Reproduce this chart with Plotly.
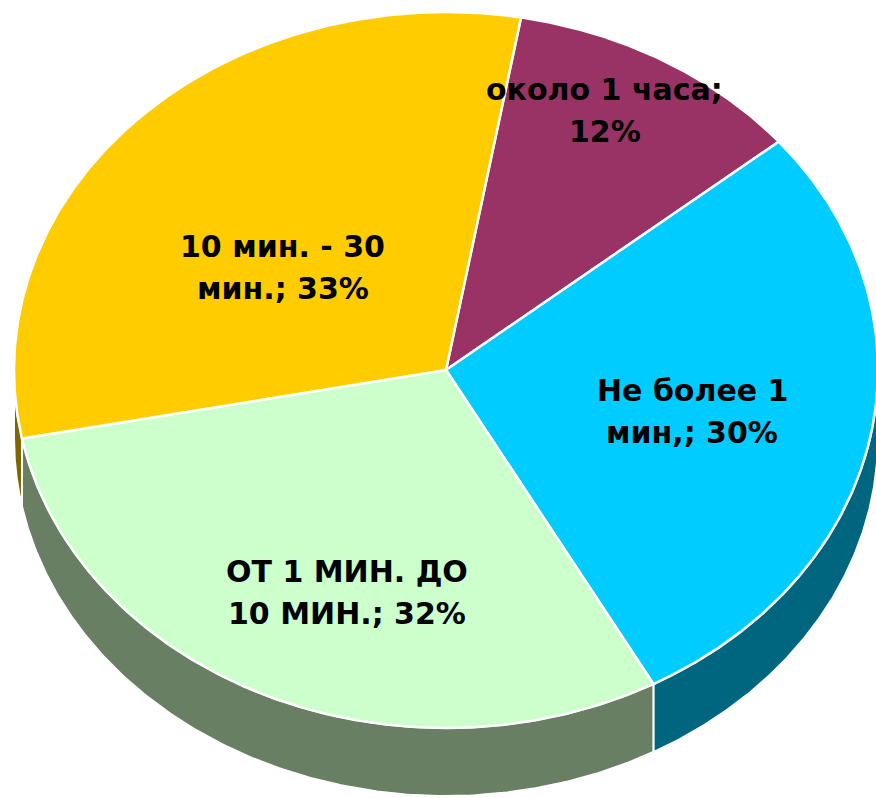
import numpy as np
import plotly.graph_objects as go

# Survey answers: how long it takes (share of respondents, %)
categories = ["около 1 часа", "Не более 1\nмин,", "ОТ 1 МИН. ДО\n10 МИН.", "10 мин. - 30\nмин."]
values = [12, 30, 32, 33]

top_colors = ["#993366", "#00CCFF", "#CCFFCC", "#FFCC00"]
side_colors = ["#4C1933", "#00667F", "#687F63", "#7F6600"]

# Geometry of the tilted pie (plot units = pixels of the canvas)
W, H = 876, 798
CX, CY = 446, 370          # centre of the top face
RX, RY = 432, 358          # semi-axes of the top ellipse
DEPTH = 68                 # thickness of the pie
START = 10.0               # first slice starts 10° clockwise from 12 o'clock

# Radial placement of each label inside its slice (x and y fractions)
label_frac = [(0.73, 0.84), (0.58, 0.62), (0.54, 0.685), (0.53, 0.41)]
LINE_GAP = 42
FONT_SIZE = 30


def ellipse_pt(theta_deg, dy=0.0):
    t = np.radians(theta_deg)
    return CX + RX * np.sin(t), CY - RY * np.cos(t) + dy


total = float(sum(values))
spans = [v / total * 360.0 for v in values]
edges = [START]
for s in spans:
    edges.append(edges[-1] + s)

fig = go.Figure()

# Side walls: only the part of each slice that faces the viewer (90°..270°)
for i in range(len(values)):
    a1, a2 = edges[i], edges[i + 1]
    for lo, hi in ((90, 270), (450, 630)):
        s1, s2 = max(a1, lo), min(a2, hi)
        if s2 <= s1:
            continue
        th = np.linspace(s1, s2, 200)
        xt, yt = ellipse_pt(th)
        xb, yb = ellipse_pt(th[::-1], DEPTH)
        xs = np.concatenate([xt, xb, xt[:1]])
        ys = np.concatenate([yt, yb, yt[:1]])
        fig.add_trace(go.Scatter(
            x=xs, y=ys, mode="lines", fill="toself",
            fillcolor=side_colors[i],
            line=dict(color="white", width=2),
            hoverinfo="skip", showlegend=False,
        ))

# Top faces
for i in range(len(values)):
    th = np.linspace(edges[i], edges[i + 1], 300)
    xa, ya = ellipse_pt(th)
    xs = np.concatenate([[CX], xa, [CX]])
    ys = np.concatenate([[CY], ya, [CY]])
    fig.add_trace(go.Scatter(
        x=xs, y=ys, mode="lines", fill="toself",
        fillcolor=top_colors[i],
        line=dict(color="white", width=2.5),
        hoverinfo="skip", showlegend=False,
        name=categories[i].replace("\n", " "),
    ))

# Data labels: "<category>; <value>%"
for i, (cat, v) in enumerate(zip(categories, values)):
    if "\n" in cat:
        text = f"{cat}; {v}%"
    else:
        text = f"{cat};\n{v}%"
    lines = text.split("\n")
    mid = (edges[i] + edges[i + 1]) / 2.0
    t = np.radians(mid)
    fx, fy = label_frac[i]
    lx = CX + RX * fx * np.sin(t)
    ly = CY - RY * fy * np.cos(t)
    n = len(lines)
    for k, line in enumerate(lines):
        fig.add_annotation(
            x=lx, y=ly + (k - (n - 1) / 2.0) * LINE_GAP,
            text=line, showarrow=False,
            xanchor="center", yanchor="middle",
            font=dict(family="DejaVu Sans", size=FONT_SIZE, color="black", weight="bold"),
        )

fig.update_layout(
    width=W, height=H,
    margin=dict(l=0, r=0, t=0, b=0),
    paper_bgcolor="white", plot_bgcolor="white",
    showlegend=False,
    xaxis=dict(range=[0, W], visible=False, showgrid=False, zeroline=False),
    yaxis=dict(range=[H, 0], visible=False, showgrid=False, zeroline=False),
)

fig.write_html("out.html")
